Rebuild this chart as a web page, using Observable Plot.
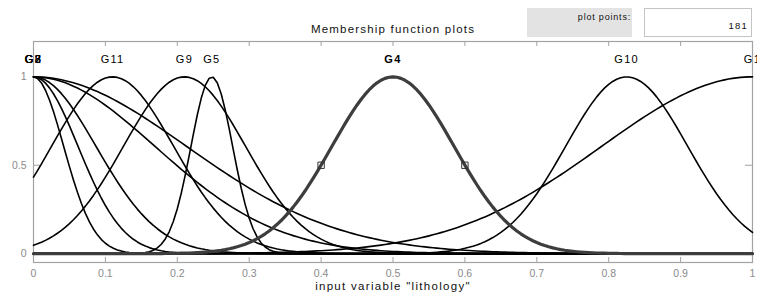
<!DOCTYPE html>
<html><head><meta charset="utf-8">
<script src="https://cdn.jsdelivr.net/npm/d3@7"></script>
<script src="https://cdn.jsdelivr.net/npm/@observablehq/plot@0.6"></script>
<style>
body{margin:0;background:#fff;}
#wrap{position:relative;width:757px;height:299px;overflow:hidden;background:#fff;}
#top{position:absolute;left:0;top:0;}
</style></head><body>
<div id="wrap"><div id="chart"></div>
<svg id="top" width="757" height="40" font-family="Liberation Sans, Arial, sans-serif">
<text x="393" y="33" text-anchor="middle" font-size="11.5" letter-spacing="1.2" fill="#111">Membership function plots</text>
<rect x="527" y="8" width="105" height="29" fill="#e3e3e3"/>
<text x="631" y="20" text-anchor="end" font-size="9" letter-spacing="0.8" fill="#111">plot points:</text>
<rect x="644.5" y="8.5" width="107" height="28" fill="#fff" stroke="#c4c4c4"/>
<text x="748" y="29" text-anchor="end" font-size="9.5" letter-spacing="1.2" fill="#111">181</text>
</svg></div>
<script>
// Gaussian membership functions
const mfNames   = ["G1", "G2", "G3", "G4", "G5", "G6", "G7", "G8", "G9", "G10", "G11"];
const mfCenters = [1.0,  0.0,  0.0,  0.5,  0.248, 0.0,  0.0,  0.0,  0.21, 0.825, 0.11];
const mfSigmas  = [0.21, 0.042, 0.062, 0.085, 0.029, 0.087, 0.169, 0.213, 0.085, 0.085, 0.085];
const selectedMF = "G4";
const plotPoints = 181;
const selMarkX = [0.4, 0.6];
const selMarkY = [0.5, 0.5];
const xTicks = [0, 0.1, 0.2, 0.3, 0.4, 0.5, 0.6, 0.7, 0.8, 0.9, 1];
const yTicks = [0, 0.5, 1];
const xLabel = 'input variable "lithology"';

const xs = d3.range(plotPoints).map(i => i / (plotPoints - 1));
const curves = [];
mfNames.forEach((name, k) => {
  xs.forEach(x => curves.push({name, x, y: Math.exp(-((x - mfCenters[k]) ** 2) / (2 * mfSigmas[k] ** 2))}));
});
const labels = mfNames.map((name, k) => ({name, c: mfCenters[k], bold: name === selectedMF}));
const markers = selMarkX.map((x, i) => ({x, y: selMarkY[i]}));

const yMin = -0.05, yMax = 1.2;
const tickLenY = 5 / 176.8, tickLenX = 7 / 719;
const gray = "#a3a3a3";

const chart = Plot.plot({
  width: 757, height: 299,
  marginLeft: 33, marginRight: 5, marginTop: 41, marginBottom: 37,
  x: {domain: [0, 1]},
  y: {domain: [yMin, yMax]},
  style: {fontFamily: "Liberation Sans, Arial, sans-serif", fontSize: "10.5px", background: "white"},
  marks: [
    Plot.frame({stroke: gray, strokeWidth: 1.2}),
    Plot.ruleX(xTicks, {x: d => d, y1: yMin, y2: yMin + tickLenY, stroke: gray}),
    Plot.ruleX(xTicks, {x: d => d, y1: yMax, y2: yMax - tickLenY, stroke: gray}),
    Plot.ruleY(yTicks, {y: d => d, x1: 0, x2: tickLenX, stroke: gray}),
    Plot.ruleY(yTicks, {y: d => d, x1: 1, x2: 1 - tickLenX, stroke: gray}),
    Plot.axisX({ticks: xTicks, tickSize: 0, tickPadding: 7, tickFormat: d => String(d), label: null, color: "#8a8a8a"}),
    Plot.axisY({ticks: yTicks, tickSize: 0, tickPadding: 7, tickFormat: d => String(d), label: null, color: "#8a8a8a"}),
    Plot.line(curves.filter(d => d.name !== selectedMF), {x: "x", y: "y", z: "name", stroke: "black", strokeWidth: 1.6}),
    Plot.line(curves.filter(d => d.name === selectedMF), {x: "x", y: "y", stroke: "#3d3d3d", strokeWidth: 3.2}),
    Plot.dot(markers, {x: "x", y: "y", symbol: "square", r: 3.6, stroke: "#333", strokeWidth: 1, fill: "none"}),
    Plot.text(labels.filter(d => !d.bold), {x: "c", y: () => 1.1, text: "name", fontSize: 11, fill: "black", textAnchor: "middle"}),
    Plot.text(labels.filter(d => d.bold), {x: "c", y: () => 1.1, text: "name", fontSize: 11, fontWeight: "bold", fill: "black", textAnchor: "middle"}),
    Plot.text([xLabel], {text: d => d, frameAnchor: "bottom", dy: 27, fontSize: 11.5, fill: "#111"})
  ]
});
d3.select(chart).selectAll('g[aria-label="text"] text').attr("letter-spacing", "1.3");
document.getElementById("chart").appendChild(chart);
</script>
</body></html>
